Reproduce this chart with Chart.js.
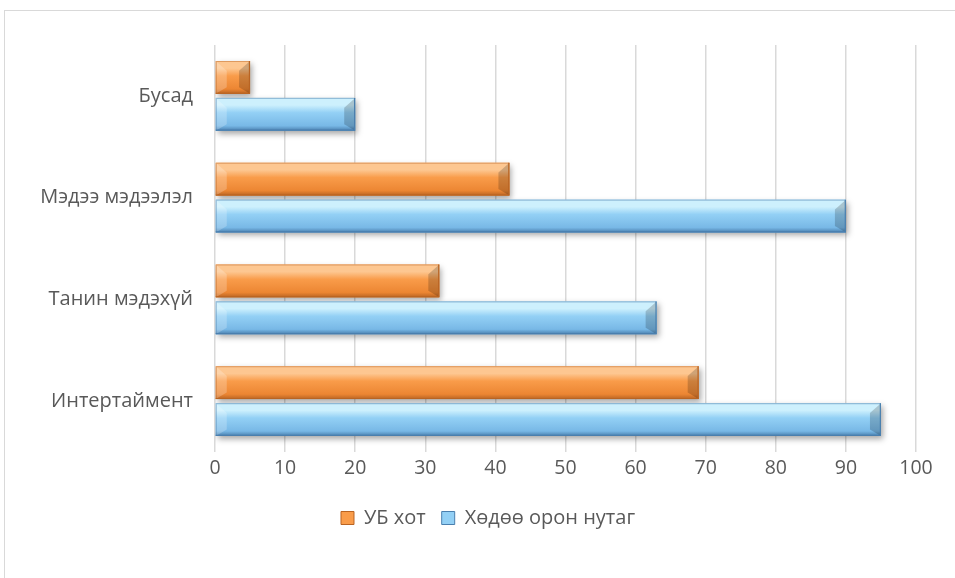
<!DOCTYPE html>
<html>
<head>
<meta charset="utf-8">
<script src="https://cdn.jsdelivr.net/npm/chart.js@4"></script>
<style>
  html, body { margin: 0; padding: 0; background: #fff; }
  #wrap { position: relative; width: 955px; height: 578px; overflow: hidden; }
  #frame { position: absolute; left: 4px; top: 10px; width: 1000px; height: 700px;
           border: 1px solid #d9d9d9; box-sizing: border-box; }
  #c { position: absolute; left: 0; top: 0; }
</style>
</head>
<body>
<div id="wrap">
  <div id="frame"></div>
  <canvas id="c" width="955" height="578"></canvas>
</div>
<script>
// Categories listed top to bottom
const categories = ['Бусад', 'Мэдээ мэдээлэл', 'Танин мэдэхүй', 'Интертаймент'];
const seriesNames = ['УБ хот', 'Хөдөө орон нутаг'];
const ubValues = [5, 42, 32, 69];
const ruralValues = [20, 90, 63, 95];
const xTicks = [0, 10, 20, 30, 40, 50, 60, 70, 80, 90, 100];

// Palette for the bevelled bars: light top, body, dark base, edge
const palettes = [
  { top: '#fdc791', body: '#f99c4a', low: '#ec8633', edge: '#b96423' },
  { top: '#cdf0fd', body: '#93d0f5', low: '#78b8e6', edge: '#4a7fae' }
];

const FONT = "'Open Sans', 'DejaVu Sans', sans-serif";
const TEXT = '#595959';
const LEGEND_SHIFT = 30;

// Draw the legend a little to the right so it sits centred under the plot
const legendShift = {
  id: 'legendShift',
  afterInit(chart) {
    const lg = chart.legend;
    if (!lg) return;
    const origDraw = lg.draw.bind(lg);
    lg.draw = function (area) {
      const ctx = chart.ctx;
      ctx.save();
      ctx.translate(LEGEND_SHIFT, 0);
      origDraw(area);
      ctx.restore();
    };
  }
};

// Soft shadow under the bars, then a bevel overlay on every bar element
const bevelPlugin = {
  id: 'bevel',
  beforeDatasetsDraw(chart) {
    const ctx = chart.ctx;
    ctx.save();
    ctx.shadowColor = 'rgba(0,0,0,0.35)';
    ctx.shadowBlur = 6;
    ctx.shadowOffsetX = 2;
    ctx.shadowOffsetY = 3;
  },
  afterDatasetsDraw(chart) {
    const ctx = chart.ctx;
    ctx.restore();
    chart.data.datasets.forEach((ds, di) => {
      const meta = chart.getDatasetMeta(di);
      if (meta.hidden) return;
      const p = palettes[di];
      meta.data.forEach(el => {
        const { x, y, base, height } = el.getProps(['x', 'y', 'base', 'height'], true);
        const l = Math.min(x, base), r = Math.max(x, base);
        const t = y - height / 2, b = y + height / 2;
        const h = b - t, w = r - l;
        const bv = Math.min(11, w / 2);
        const it = t + h * 0.3, ib = b - h * 0.2;
        ctx.save();
        // body gradient
        const g = ctx.createLinearGradient(0, t, 0, b);
        g.addColorStop(0, p.top);
        g.addColorStop(0.22, p.top);
        g.addColorStop(0.45, p.body);
        g.addColorStop(0.85, p.low);
        g.addColorStop(1, p.edge);
        ctx.fillStyle = g;
        ctx.fillRect(l, t, w, h);
        // left bevel face
        ctx.beginPath();
        ctx.moveTo(l, t); ctx.lineTo(l + bv, it); ctx.lineTo(l + bv, ib); ctx.lineTo(l, b); ctx.closePath();
        ctx.fillStyle = 'rgba(255,255,255,0.22)';
        ctx.fill();
        // right bevel face
        ctx.beginPath();
        ctx.moveTo(r, t); ctx.lineTo(r - bv, it); ctx.lineTo(r - bv, ib); ctx.lineTo(r, b); ctx.closePath();
        ctx.fillStyle = 'rgba(0,0,0,0.18)';
        ctx.fill();
        // darker edge on the lower and right sides
        ctx.strokeStyle = p.edge;
        ctx.lineWidth = 1.2;
        ctx.beginPath();
        ctx.moveTo(l, b - 0.6); ctx.lineTo(r - 0.6, b - 0.6); ctx.lineTo(r - 0.6, t);
        ctx.stroke();
        ctx.globalAlpha = 0.45;
        ctx.beginPath();
        ctx.moveTo(l + 0.5, b); ctx.lineTo(l + 0.5, t + 0.5); ctx.lineTo(r, t + 0.5);
        ctx.stroke();
        ctx.restore();
      });
    });
  }
};

new Chart(document.getElementById('c'), {
  type: 'bar',
  data: {
    labels: categories,
    datasets: [
      { label: seriesNames[0], data: ubValues, backgroundColor: palettes[0].body,
        borderColor: palettes[0].edge, borderWidth: 0 },
      { label: seriesNames[1], data: ruralValues, backgroundColor: palettes[1].body,
        borderColor: palettes[1].edge, borderWidth: 0 }
    ]
  },
  plugins: [legendShift, bevelPlugin],
  options: {
    indexAxis: 'y',
    responsive: false,
    animation: false,
    categoryPercentage: 0.725,
    barPercentage: 0.89,
    layout: { padding: { top: 45, bottom: 40, left: 0, right: 39 } },
    scales: {
      x: {
        min: 0, max: 100,
        afterBuildTicks(scale) { scale.ticks = xTicks.map(v => ({ value: v })); },
        grid: { color: '#d9d9d9', lineWidth: 1.5, drawTicks: true, tickLength: 0 },
        border: { display: false },
        ticks: { color: TEXT, font: { family: FONT, size: 19.5 }, padding: 5 },
        afterFit(scale) { scale.height = 40; }
      },
      y: {
        grid: { display: false, drawTicks: false },
        border: { display: false },
        ticks: { color: TEXT, font: { family: FONT, size: 20 }, padding: 22 },
        afterFit(scale) { scale.width = 215; }
      }
    },
    plugins: {
      legend: {
        position: 'bottom',
        labels: {
          color: TEXT,
          font: { family: FONT, size: 20 },
          boxWidth: 13, boxHeight: 13,
          padding: 16,
          generateLabels(chart) {
            return chart.data.datasets.map((ds, i) => ({
              text: ds.label,
              fillStyle: palettes[i].body,
              strokeStyle: palettes[i].edge,
              lineWidth: 1,
              fontColor: TEXT,
              datasetIndex: i,
              hidden: !chart.isDatasetVisible(i)
            }));
          }
        }
      },
      tooltip: { enabled: false }
    }
  }
});
</script>
</body>
</html>
